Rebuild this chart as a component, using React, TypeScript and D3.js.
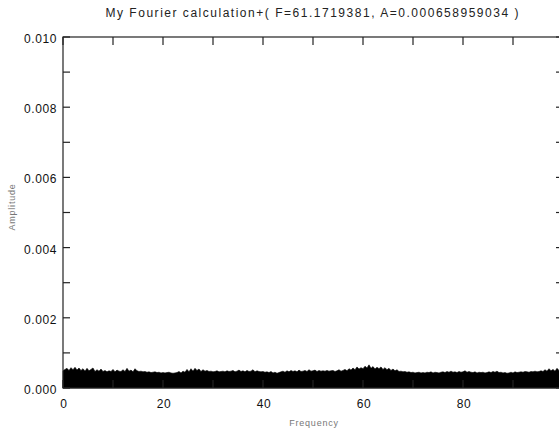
import { useMemo } from 'react';
import * as d3 from 'd3';

// amplitude spectrum, 0.4 Hz step, values in units of 1e-4
const freqStep = 0.4;
const amp1e4 = [
  4.9, 5.3, 5.6, 5.0, 5.8, 5.2, 5.9, 5.1, 5.7, 5.0,
  5.5, 4.8, 5.6, 4.9, 5.3, 5.7, 4.7, 5.2, 4.8, 5.4,
  4.7, 5.0, 4.6, 4.9, 4.7, 5.3, 4.6, 5.1, 4.8, 4.7,
  5.2, 4.7, 5.6, 4.8, 5.1, 4.6, 5.5, 4.9, 4.7, 4.8,
  4.6, 4.7, 4.5, 4.6, 4.4, 4.5, 4.6, 4.4, 4.5, 4.3,
  4.4, 4.3, 4.4, 4.5, 4.3, 4.2, 4.3, 4.4, 4.7, 4.3,
  4.8, 4.5, 5.3, 4.6, 5.5, 4.8, 5.6, 5.0, 5.4, 4.7,
  5.2, 4.8, 5.0, 4.7, 4.8, 4.6, 4.7, 4.9, 4.6, 4.7,
  4.8, 4.6, 4.9, 4.7, 4.8, 5.0, 4.6, 4.8, 5.1, 4.7,
  4.9, 4.6, 5.0, 4.7, 4.8, 5.2, 4.6, 4.9, 4.7, 4.6,
  4.7, 4.5, 4.6, 4.4, 4.7, 4.3, 4.5, 4.2, 4.4, 4.6,
  4.8, 4.5, 4.9, 4.6, 5.0, 4.7, 4.9, 4.6, 5.1, 4.7,
  4.8, 5.0, 4.7, 5.2, 4.8, 4.9, 5.1, 4.7, 5.0, 4.8,
  4.9, 4.8, 5.0, 4.8, 4.9, 5.0, 4.7, 4.9, 5.2, 4.8,
  5.0, 5.3, 4.9, 5.5, 5.1, 5.7, 5.2, 6.0, 5.4, 5.8,
  5.5, 6.2, 5.7, 6.6, 5.6, 6.1, 5.4, 5.9, 5.5, 6.0,
  5.3, 5.8, 5.2, 5.6, 5.0, 5.4, 4.9, 5.2, 4.7, 4.8,
  4.6, 4.7, 4.5, 4.6, 4.4, 4.5, 4.3, 4.4, 4.5, 4.3,
  4.4, 4.3, 4.5, 4.4, 4.6, 4.3, 4.5, 4.4, 4.3, 4.5,
  4.6, 4.4, 4.7, 4.5, 4.8, 4.5, 4.6, 4.4, 4.7, 4.5,
  4.6, 4.9, 4.5, 4.7, 4.5, 4.4, 4.6, 4.3, 4.5, 4.4,
  4.5, 4.3, 4.4, 4.6, 4.4, 4.7, 4.5, 4.8, 4.4, 4.5,
  4.3, 4.4, 4.2, 4.3, 4.5, 4.3, 4.6, 4.4, 4.5, 4.6,
  4.5, 4.7, 4.6, 4.5, 4.7, 4.6, 4.8, 4.6, 4.7, 4.9,
  4.7, 5.2, 4.8, 5.5, 4.9, 5.3, 4.8, 5.6, 5.0, 5.4,
];

const yTicks = [0, 0.002, 0.004, 0.006, 0.008, 0.010];
const xTicks = [0, 20, 40, 60, 80];
const title = 'My Fourier calculation+( F=61.1719381, A=0.000658959034 )';

const W = 559;
const H = 433;
const left = 63;
const right = 563;
const top = 37;
const bottom = 388;

const App = () => {
  const x = useMemo(() => d3.scaleLinear().domain([0, 100]).range([left, right]), []);
  const y = useMemo(() => d3.scaleLinear().domain([0, 0.01]).range([bottom, top]), []);

  const data = amp1e4.map((v, i) => ({ f: i * freqStep, a: v * 1e-4 }));

  const area = d3.area<{ f: number; a: number }>()
    .x(d => x(d.f))
    .y0(y(0))
    .y1(d => y(d.a));

  const minorY = d3.range(0, 0.0101, 0.001);
  const minorX = d3.range(0, 101, 10);
  const axisColor = '#222';
  const font = '"Liberation Sans", Arial, sans-serif';

  return (
    <svg width={W} height={H} style={{ position: 'absolute', left: 0, top: 0, background: '#fff' }}>
      <text x={312} y={17} textAnchor="middle" fontFamily={font} fontSize={12} fill="#222"
        textLength={413} lengthAdjust="spacing">
        {title}
      </text>

      <path d={area(data) ?? ''} fill="#000" stroke="#000" strokeWidth={0.6} />

      {/* frame */}
      <rect x={left} y={top} width={right - left} height={bottom - top} fill="none" stroke={axisColor} strokeWidth={1.2} />

      {minorY.map((t, i) => (
        <g key={'y' + i}>
          <line x1={left} x2={left + 7} y1={y(t)} y2={y(t)} stroke={axisColor} strokeWidth={1.2} />
          <line x1={right - 7} x2={right} y1={y(t)} y2={y(t)} stroke={axisColor} strokeWidth={1.2} />
        </g>
      ))}
      {minorX.map((t, i) => (
        <g key={'x' + i}>
          <line x1={x(t)} x2={x(t)} y1={top} y2={top + 8} stroke={axisColor} strokeWidth={1.2} />
          <line x1={x(t)} x2={x(t)} y1={bottom} y2={bottom - 8} stroke={axisColor} strokeWidth={1.2} />
        </g>
      ))}

      {yTicks.map((t, i) => (
        <text key={'yl' + i} x={57} y={y(t) + 6} textAnchor="end" fontFamily={font} fontSize={12}
          fill="#111" letterSpacing={0.6}>
          {d3.format('.3f')(t)}
        </text>
      ))}
      {xTicks.map((t, i) => (
        <text key={'xl' + i} x={x(t) + 1} y={408} textAnchor="middle" fontFamily={font} fontSize={12}
          fill="#111" letterSpacing={0.6}>
          {t}
        </text>
      ))}

      <text x={314} y={426} textAnchor="middle" fontFamily={font} fontSize={9} fill="#777" letterSpacing={0.8}>
        Frequency
      </text>
      <text transform="translate(15, 207) rotate(-90)" textAnchor="middle" fontFamily={font} fontSize={9}
        fill="#777" letterSpacing={0.8}>
        Amplitude
      </text>
    </svg>
  );
};

export default App;
